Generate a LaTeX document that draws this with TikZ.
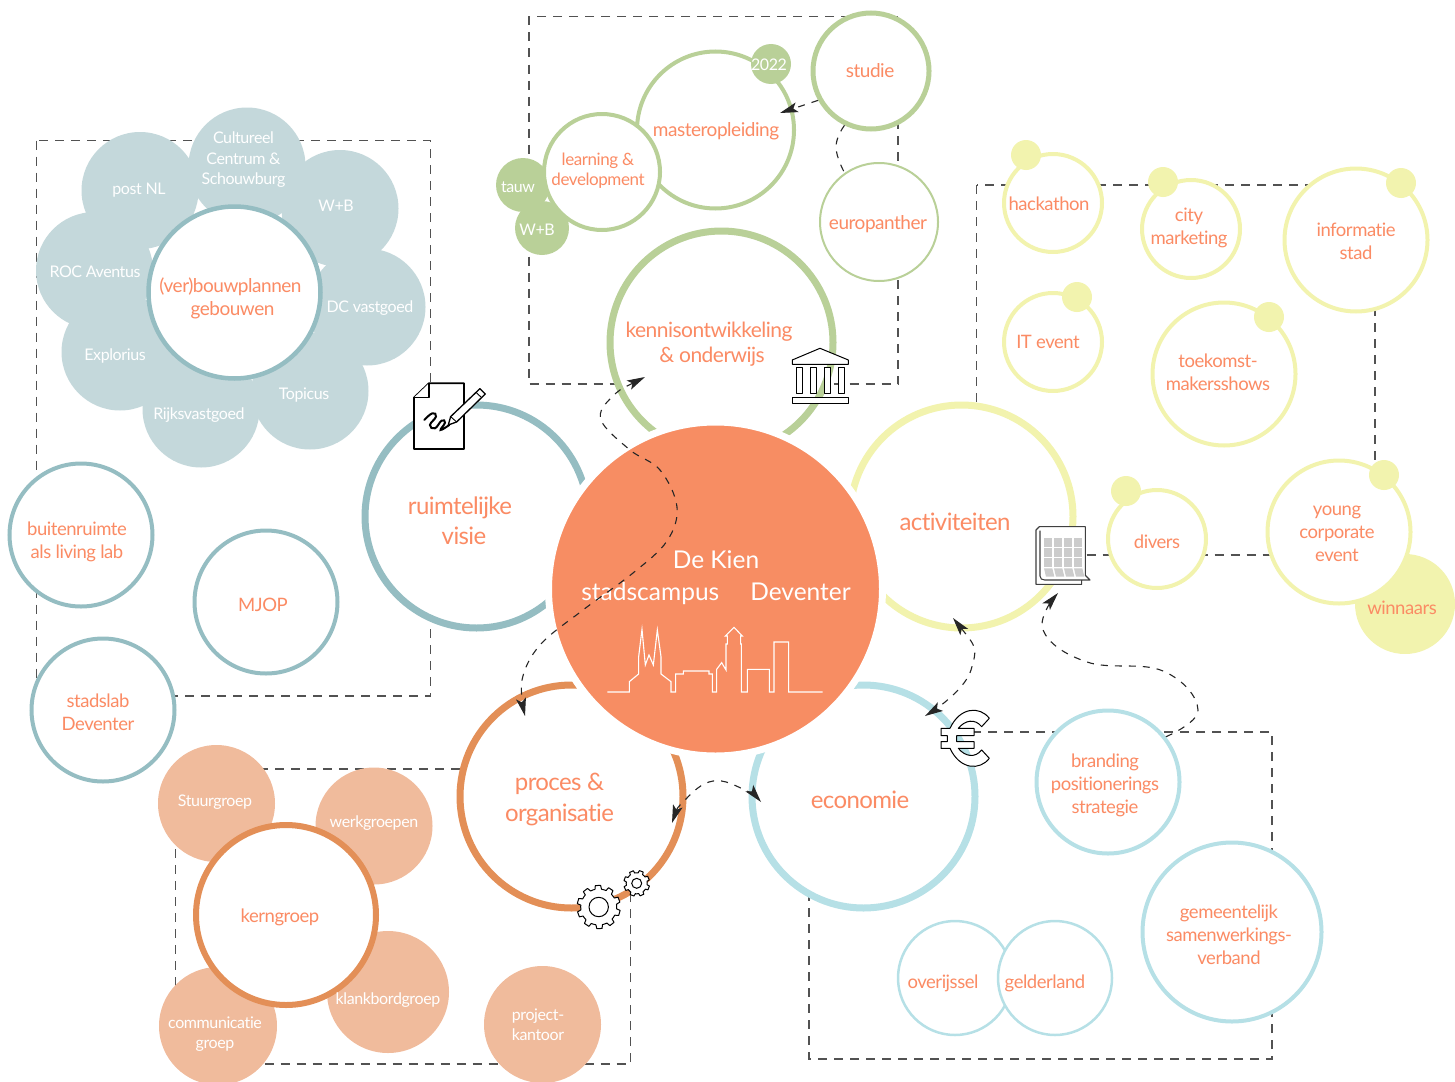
\documentclass[tikz,border=0pt]{standalone}
\usepackage{fontspec}
\setmainfont[LetterSpace=-2.5,Ligatures=NoCommon]{Lato}
\newfontfamily\kienf[Ligatures=NoCommon]{Lato}
\usetikzlibrary{arrows.meta}
\definecolor{TT}{HTML}{FB8B64}
\definecolor{CO}{HTML}{F78D63}
\definecolor{BL}{HTML}{95BDC2}
\definecolor{BP}{HTML}{C4D8DB}
\definecolor{GR}{HTML}{B9D098}
\definecolor{YE}{HTML}{F2F3AE}
\definecolor{OR}{HTML}{E38F57}
\definecolor{PE}{HTML}{F0BB9C}
\definecolor{LB}{HTML}{B6E0E6}
\tikzset{
  rg/.style n args={3}{circle,inner sep=0pt,draw=#1,fill=white,minimum size=#2pt,line width=#3pt},
  sd/.style n args={2}{circle,inner sep=0pt,fill=#1,minimum size=#2pt},
  tx/.style n args={2}{text=TT,align=center,inner sep=0pt,font=\fontsize{#1}{#2}\selectfont},
  wt/.style n args={2}{text=white,align=center,inner sep=0pt,font=\fontsize{#1}{#2}\selectfont},
  frame/.style={draw=black!68,line width=1.1pt,dash pattern=on 9pt off 7pt},
  conn/.style={draw=black!85,line width=1.1pt,dash pattern=on 7pt off 7pt},
  tip/.style={{Stealth[length=18pt,width=10pt,inset=4pt]}-{Stealth[length=18pt,width=10pt,inset=4pt]}},
  tipe/.style={-{Stealth[length=18pt,width=10pt,inset=4pt]}},
  icon/.style={draw=black,line width=1pt,fill=white,line join=round},
}
\begin{document}
\begin{tikzpicture}[x=1pt,y=-1pt]
\useasboundingbox (0,0) rectangle (1455,1081);
% dashed frames
\coordinate (fA1) at (529,16.5);  \coordinate (fA2) at (898,384);
\coordinate (fB1) at (36.5,140.5);  \coordinate (fB2) at (430.5,696);
\coordinate (fC1) at (175.5,769); \coordinate (fC2) at (630.5,1064);
\coordinate (fD1) at (809,732); \coordinate (fD2) at (1272,1059);
\coordinate (fE1) at (976.5,185); \coordinate (fE2) at (1375,555);
\draw[frame] (fA1) rectangle (fA2);
\draw[frame] (fB1) rectangle (fB2);
\draw[frame] (fC1) rectangle (fC2);
\draw[frame] (fD1) rectangle (fD2);
\draw[frame] (fE1) rectangle (fE2);
% blue group
\node[sd={BP}{117}] (pCult) at (247,166) {};
\node[sd={BP}{117}] (pPost) at (140,190.5) {};
\node[sd={BP}{117}] (pWB) at (340,208.5) {};
\node[sd={BP}{117}] (pROC) at (94.5,270.5) {};
\node[sd={BP}{117}] (pDC) at (367,307) {};
\node[sd={BP}{117}] (pExpl) at (120,352) {};
\node[sd={BP}{117}] (pTop) at (310,391) {};
\node[sd={BP}{117}] (pRijks) at (201,409) {};
\node[rg={BL}{172}{4.5}] (bouw) at (234.5,292.5) {};
\node[rg={BL}{143}{4}] (buiten) at (81,535) {};
\node[rg={BL}{143}{4}] (mjop) at (266,602) {};
\node[rg={BL}{143}{4}] (stadslab) at (103,710) {};
\node[rg={BL}{223}{7}] (visie) at (476.5,516.5) {};
% green group
\node[sd={GR}{54}] (gTauw) at (523,185) {};
\node[sd={GR}{54}] (gWB) at (542,228) {};
\node[rg={GR}{157}{4}] (master) at (715.5,130) {};
\node[rg={GR}{116}{4}] (learn) at (602,172) {};
\node[sd={GR}{40}] (g2022) at (771,64) {};
\node[rg={GR}{116}{5}] (studie) at (871,71) {};
\node[rg={GR}{118}{2}] (europ) at (879,222) {};
\node[rg={GR}{223}{7}] (kennis) at (721.5,342.5) {};
% yellow group
\node[sd={YE}{100}] (winn) at (1405,604) {};
\node[rg={YE}{98}{4}] (hack) at (1053,203) {};
\node[sd={YE}{30}] (dHack) at (1026,155) {};
\node[rg={YE}{98}{4}] (city) at (1191,229) {};
\node[sd={YE}{30}] (dCity) at (1163,182) {};
\node[rg={YE}{143}{4}] (info) at (1356,240) {};
\node[sd={YE}{30}] (dInfo) at (1401,183) {};
\node[rg={YE}{98}{4}] (itev) at (1053,342) {};
\node[sd={YE}{30}] (dIt) at (1077,297) {};
\node[rg={YE}{143}{4}] (toek) at (1224,374) {};
\node[sd={YE}{30}] (dToek) at (1269,317) {};
\node[rg={YE}{98}{4}] (divers) at (1157,539) {};
\node[sd={YE}{30}] (dDiv) at (1126,491) {};
\node[rg={YE}{143}{4}] (young) at (1339,532) {};
\node[sd={YE}{30}] (dYoung) at (1384,475) {};
\node[rg={YE}{223}{7}] (activ) at (961.5,516.5) {};
% orange group
\node[sd={PE}{117}] (stuur) at (216.5,803.5) {};
\node[sd={PE}{117}] (werk) at (374,826) {};
\node[sd={PE}{118}] (comm) at (218,1026) {};
\node[sd={PE}{122}] (klank) at (388,992) {};
\node[sd={PE}{117}] (proj) at (542.5,1024.5) {};
\node[rg={OR}{180}{6}] (kern) at (286,915) {};
\node[rg={OR}{223}{7}] (proces) at (571.5,796.5) {};
% light blue group
\node[rg={LB}{143}{4}] (brand) at (1108,782) {};
\node[rg={LB}{179}{4}] (gem) at (1232,932) {};
\node[rg={LB}{114}{2.5}] (over) at (955,978) {};
\node[rg={LB}{114}{2.5}] (geld) at (1055,978) {};
\node[rg={LB}{223}{7}] (econ) at (863.5,796.5) {};
% centre
\node[circle,inner sep=0pt,draw=white,fill=CO,line width=7pt,minimum size=334pt] (kien) at (715.5,589) {};
% skyline
\begin{scope}[shift={(540,420)},x=.3333pt,y=-.3333pt]
\draw[white,line width=1.1pt,line join=miter] (202,816) -- (268,816) -- (268,785) -- (296,762) -- (296,710) -- (306,628) -- (316,735) -- (327,705) -- (340,735) -- (352,630) -- (363,710) -- (363,762) -- (393,785) -- (393,816) -- (407,816) -- (407,762) -- (430,762) -- (430,753) -- (507,753) -- (507,762) -- (517,762) -- (517,816) -- (530,816) -- (530,748) -- (545,728) -- (558,750) -- (558,672) -- (562,672) -- (562,648) -- (556,648) -- (582,622) -- (607,648) -- (602,648) -- (602,672) -- (604,672) -- (604,816) -- (622,816) -- (622,748) -- (688,748) -- (688,816) -- (702,816) -- (702,666) -- (746,666) -- (746,816) -- (848,816);
\end{scope}
% texts
\node[wt={16}{20.5}] (tCult) at (243.5,160) {Cultureel\\Centrum \&\\Schouwburg};
\node[wt={16}{20}] (tPost) at (139,190) {post NL};
\node[wt={16}{20}] (tWB) at (336,206) {W+B};
\node[wt={16}{20}] (tROC) at (95,271.5) {ROC Aventus};
\node[wt={16}{20}] (tDC) at (370,308) {DC vastgoed};
\node[wt={16}{20}] (tExpl) at (115,356) {Explorius};
\node[wt={16}{20}] (tTop) at (304,395) {Topicus};
\node[wt={16}{20}] (tRijks) at (199,415) {Rijksvastgoed};
\node[tx={19}{23}] (tBouw) at (230.5,298.5) {(ver)bouwplannen\\\hspace*{4pt}gebouwen};
\node[tx={18.5}{23}] (tBuiten) at (77,542) {buitenruimte\\als living lab};
\node[tx={18.5}{23}] (tMjop) at (263,605) {MJOP};
\node[tx={18.5}{23}] (tStad) at (98,712) {stadslab\\Deventer};
\node[tx={24}{30}] (tVisie) at (460,520.5) {ruimtelijke\\\hspace*{8pt}visie};
\node[tx={21}{25}] (tKennis) at (709,344) {kennisontwikkeling\\\hspace*{6pt}\& onderwijs};
\node[tx={19}{23}] (tMaster) at (716,131) {masteropleiding};
\node[tx={17}{20}] (tLearn) at (598,170.5) {learning \&\\development};
\node[tx={19}{23}] (tStudie) at (870,71) {studie};
\node[tx={19}{23}] (tEurop) at (878,224) {europanther};
\node[wt={16}{20}] (t2022) at (769,65) {2022};
\node[wt={16}{20}] (tTauw) at (518,187) {tauw};
\node[wt={16}{20}] (tGWB) at (537,230) {W+B};
\node[wt={24.5}{32}] (tKien) at (716,577.5) {\kienf De Kien\\\kienf stadscampus\hspace{31pt}Deventer};
\node[tx={24}{30}] (tActiv) at (955,522) {activiteiten};
\node[tx={24}{31}] (tProces) at (559.5,799.5) {proces \&\\organisatie};
\node[tx={24}{30}] (tEcon) at (860,800) {economie};
\node[tx={18.5}{23}] (tHack) at (1049,204) {hackathon};
\node[tx={18.5}{23}] (tCity) at (1189,228) {city\\marketing};
\node[tx={18.5}{23}] (tInfo) at (1356,241.5) {informatie\\stad};
\node[tx={18.5}{23}] (tIt) at (1048,342) {IT event};
\node[tx={18.5}{23}] (tToek) at (1218,372) {toekomst-\\makersshows};
\node[tx={18.5}{23}] (tDiv) at (1157,542) {divers};
\node[tx={18.5}{23}] (tYoung) at (1337,533.5) {young\\corporate\\event};
\node[tx={18.5}{23}] (tWinn) at (1402,608) {winnaars};
\node[tx={18.5}{23}] (tBrand) at (1105,785.5) {branding\\positionerings\\strategie};
\node[tx={18.5}{23}] (tGem) at (1229,934.5) {gemeentelijk\\samenwerkings-\\verband};
\node[tx={18.5}{23}] (tOver) at (943,983) {overijssel};
\node[tx={18.5}{23}] (tGeld) at (1045,983) {gelderland};
\node[wt={16}{20}] (tStuur) at (215,802) {Stuurgroep};
\node[wt={16}{20}] (tWerk) at (374,823) {werkgroepen};
\node[tx={18.5}{23}] (tKern) at (280,917) {kerngroep};
\node[wt={16}{20}] (tComm) at (215,1034) {communicatie\\groep};
\node[wt={16}{20}] (tKlank) at (388,1000) {klankbordgroep};
\node[wt={16}{20}] (tProj) at (538,1025) {project-\\kantoor};
% building icon
\begin{scope}[shift={(480,0)},x=.3333pt,y=-.3333pt]
\draw[icon] (937,1080) -- (1020,1045) -- (1105,1080) -- (1105,1093) -- (937,1093) -- cycle;
\foreach \cx in {950,991,1033,1075} \draw[icon] (\cx,1104) rectangle ++(18,78);
\draw[icon] (937,1192) rectangle (1105,1210);
\end{scope}
% document icon
\begin{scope}[shift={(30,100)},x=.3333pt,y=-.3333pt]
\draw[icon,line width=1.8pt] (1152,893) -- (1197,850) -- (1302,850) -- (1302,1047) -- (1152,1047) -- cycle;
\draw[icon,line width=1.6pt] (1152,893) -- (1197,893) -- (1197,850);
\draw[black,line width=2pt,line cap=round] plot[smooth,tension=.8] coordinates {(1183,960) (1207,940) (1218,950) (1200,975) (1215,985) (1235,962) (1245,968) (1232,990) (1258,975)};
\draw[icon,line width=1.3pt] (1255,975) -- (1262,950) -- (1350,866) -- (1366,882) -- (1280,966) -- cycle;
\draw[black,line width=.9pt] (1262,950) -- (1280,966) (1338,877) -- (1355,893);
\end{scope}
% calendar icon
\begin{scope}[shift={(900,500)},x=.3333pt,y=-.3333pt]
\draw[icon,draw=black!75,line width=1.1pt] (408,90) -- (418,80) -- (556,80) -- (556,226) -- (570,240) -- (545,240) -- (545,253) -- (408,253) -- cycle;
\draw[black!75,line width=1.1pt] (420,92) -- (420,228) .. controls (420,236) and (426,240) .. (434,240) -- (545,240);
\foreach \cx in {432,462,492,522} \foreach \cy in {115,145,175} \fill[black!20] (\cx,\cy) rectangle ++(25,25);
\foreach \cx in {432,462,492,522} \fill[black!20] (\cx,205) -- ++(25,0) -- ++(6,25) -- ++(-25,0) -- cycle;
\end{scope}
% euro icon
\begin{scope}[shift={(900,500)},x=.3333pt,y=-.3333pt]
\draw[icon] (268,655) .. controls (240,618) and (180,620) .. (150,685) -- (123,685) -- (123,707) -- (142,707) -- (142,725) -- (123,725) -- (123,745) -- (150,745) .. controls (180,810) and (240,812) .. (268,775) -- (245,750) .. controls (225,775) and (195,770) .. (175,745) -- (222,745) -- (222,725) -- (170,725) -- (170,707) -- (222,707) -- (222,685) -- (175,685) .. controls (195,660) and (225,655) .. (245,680) -- cycle;
\end{scope}
% gears
\begin{scope}[shift={(598.7,907)}]
\draw[icon] (0:18) \foreach \a in {0,36,...,324} { -- (\a+6:18) -- (\a+9:21.7) -- (\a+23:21.7) -- (\a+27:18) -- (\a+36:18)} -- cycle;
\draw[icon] (0,0) circle (9.7);
\end{scope}
\begin{scope}[shift={(636.7,883.3)}]
\draw[icon] (0:10.5) \foreach \a in {0,45,...,315} { -- (\a+8:10.5) -- (\a+12:13) -- (\a+30:13) -- (\a+34:10.5) -- (\a+45:10.5)} -- cycle;
\draw[icon] (0,0) circle (5);
\end{scope}
% connectors
\coordinate (a1) at (645,377); \coordinate (a2) at (612,397); \coordinate (a3) at (601,420);
\coordinate (a4) at (630,450); \coordinate (a5) at (660,470); \coordinate (a6) at (677,507);
\coordinate (a7) at (667,541); \coordinate (a8) at (633,573); \coordinate (a9) at (583,610);
\coordinate (a10) at (540,645); \coordinate (a11) at (522,680); \coordinate (a12) at (525,716);
\draw[conn,tip] plot[smooth,tension=.6] coordinates {(a1) (a2) (a3) (a4) (a5) (a6) (a7) (a8) (a9) (a10) (a11) (a12)};
\coordinate (b1) at (780,113);
\draw[conn,tipe] (studie.209) -- (b1);
\coordinate (c1) at (836,147);
\draw[conn] plot[smooth,tension=.8] coordinates {(studie.-116) (c1) (europ.125)};
\coordinate (d1) at (953,618); \coordinate (d2) at (971,670); \coordinate (d3) at (925,716);
\draw[conn,tip] plot[smooth,tension=.8] coordinates {(d1) (d2) (d3)};
\coordinate (e1) at (1198,710); \coordinate (e2) at (1163,671); \coordinate (e3) at (1087,662);
\coordinate (e4) at (1043,630); \coordinate (e5) at (1058,593);
\draw[conn,tipe] plot[smooth,tension=.7] coordinates {(brand.38) (e1) (e2) (e3) (e4) (e5)};
\coordinate (f1) at (672,823); \coordinate (f2) at (685,800); \coordinate (f3) at (713,781);
\coordinate (f4) at (745,790); \coordinate (f5) at (761,802);
\draw[conn,tip] plot[smooth,tension=.7] coordinates {(f1) (f2) (f3) (f4) (f5)};
\end{tikzpicture}
\end{document}
